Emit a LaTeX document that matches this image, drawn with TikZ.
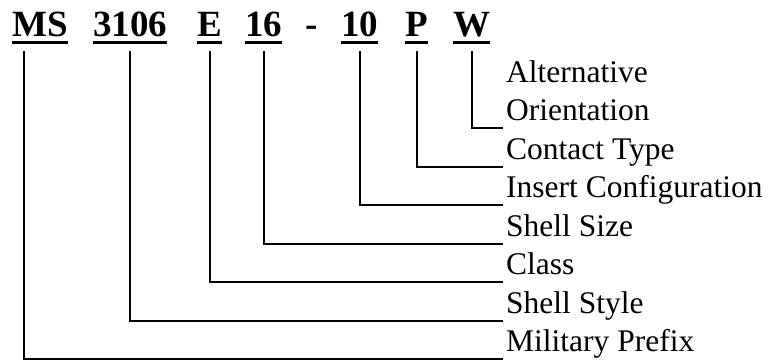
\documentclass[tikz,border=0pt]{standalone}
\usepackage{fontspec}
\setmainfont{Liberation Serif}

\begin{document}
\begin{tikzpicture}[x=1pt, y=-1pt,
    code/.style={inner sep=0, anchor=base west, font=\bfseries\fontsize{37}{44}\selectfont},
    desc/.style={inner sep=0, anchor=base west, align=left, font=\fontsize{31.5}{38.5}\selectfont},
    leader/.style={line width=2pt}]
% Constants
\def\codeBase{36} % Baseline of the code letters
\def\labelLeft{506} % Left edge of the labels
\def\labelBottom{351.5} % Baseline of the lowest label
\def\labelSpacing{38.5} % Vertical spacing between labels
\def\dropGap{15} % Gap between code baseline and leader lines
\def\lineDrop{7.5} % Leader line below the label baseline

\useasboundingbox (0,0) rectangle (770,360);

% Draw the underlined code letters
\foreach \name/\txt/\x in {ms/MS/12, 3106/3106/93, e/E/197, 16/16/245, 10/10/341, p/P/405, w/W/453} {
    \node[code] (code-\name) at (\x, \codeBase) {\txt};
    \draw[line width=3pt] ([yshift=-6pt]code-\name.base west) -- ([yshift=-6pt]code-\name.base east);
}
\node[code] (code-dash) at (305, \codeBase) {-};

% Draw the labels from the bottom up
\foreach \name/\txt [count=\i from 0] in {ms/Military Prefix, 3106/Shell Style, e/Class, 16/Shell Size, 10/Insert Configuration, p/Contact Type, w/{Alternative\\Orientation}} {
    \pgfmathsetmacro\y{\labelBottom - \i*\labelSpacing}
    \node[desc] (label-\name) at (\labelLeft, \y) {\txt};
}

% Connect each code letter to its label
\foreach \name/\off in {ms/-16, 3106/0, e/0, 16/0, 10/0, p/0, w/0} {
    \draw[leader] ([xshift=\off pt, yshift=-\dropGap pt]code-\name.base) |- ([xshift=-3pt, yshift=-\lineDrop pt]label-\name.base west);
}

\end{tikzpicture}
\end{document}
